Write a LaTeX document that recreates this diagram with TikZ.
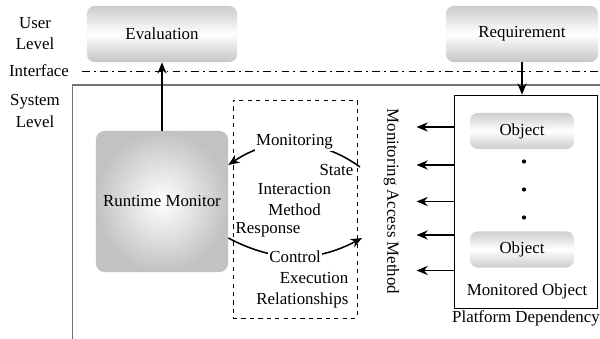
\documentclass[tikz,border=0pt]{standalone}
\usepackage{fontspec}
\setmainfont{Liberation Serif}
\usepackage{tikz}
\usetikzlibrary{positioning, calc, arrows.meta, shapes}
\definecolor{linegray}{rgb}{0.45, 0.45, 0.45}

\begin{document}
\begin{tikzpicture}[x=0.025cm, y=-0.025cm, font=\fontsize{12}{15}\selectfont,
		arr/.style={line width=1.1pt, -{Stealth[length=8pt, width=6.5pt]}},
		lvlbox/.style={rounded corners=5.5pt, top color=gray!40, bottom color=gray!45, middle color=white, minimum height=1.4cm},
		objbox/.style={rounded corners=5.5pt, top color=gray!38, bottom color=gray!40, middle color=white, minimum width=2.6cm, minimum height=0.9cm},
		lbl/.style={inner sep=1pt, align=center}]
				\useasboundingbox (0,0) rectangle (600,339);
				
				% levels
				\node[lbl] (user) at (35,34) {User\\Level};
				\node[lbl] (sys) at (35,111) {System\\Level};
				\node[lbl] (intf) at (39,71) {Interface};
				\draw[line width=0.6pt, dash pattern=on 5.5pt off 3pt on 1.4pt off 3pt] (82,71) -- (600,71);
				\draw[linegray, line width=0.8pt] (600,85) -- (72.5,85) -- (72.5,339);
				
				\node[lvlbox, minimum width=3.75cm] (eval) at (162,34) {Evaluation};
				\node[lvlbox, minimum width=3.8cm] (req) at (522,34) {Requirement};
				
				\node[rounded corners=6pt, inner color=white, outer color=gray!48, minimum width=3.3cm, minimum height=3.525cm] (rm) at (162,201.5) {Runtime Monitor};
				\node[draw, dashed, thin, minimum width=3.1cm, minimum height=5.45cm] (dbox) at (295,209) {};
				\node[draw, thin, minimum width=3.575cm, minimum height=5.325cm] (mobj) at (525.5,201.5) {};
				
				\node[objbox] (obj1) at (522,131) {Object};
				\node[objbox] (obj2) at (522,249.5) {Object};
				\foreach \yy in {161.5,189.5,217.5}
					\fill (524,\yy) circle (2.1);
				\node[lbl] (molbl) at (527,291) {Monitored Object};
				\node[lbl] (plat) at (526,318) {Platform Dependency};
				\node[lbl, rotate=-90] (mam) at (391.5,201.5) {Monitoring Access Method};
				
				\draw[arr] (rm.north) -- (eval.south);
				\draw[arr] (req.south) -- (req.south |- mobj.north);
				\foreach \yy [count=\i] in {127,165,201.5,235,270.5} {
					\coordinate (ma\i) at (416.5,\yy);
					\draw[arr] (mobj.west |- ma\i) -- (ma\i);
				}
				
				% interaction between monitor and objects
				\coordinate (stateR) at (360,167);
				\coordinate (rmIn) at ($(rm.east)+(0,-36.5)$);
				\coordinate (rmOut) at ($(rm.east)+(0,36.5)$);
				\coordinate (ctrlR) at (362,238);
				\draw[arr] (stateR) to[bend right=35] node[lbl, fill=white, yshift=1.5pt] (mon) {Monitoring} (rmIn);
				\draw[arr] (rmOut) to[bend right=28] node[lbl, fill=white] (ctrl) {Control} (ctrlR);
				\node[lbl, anchor=east] (state) at (355,170) {State};
				\node[lbl] (inter) at (294.5,199.5) {Interaction\\Method};
				\node[lbl, anchor=west] (resp) at (234,230) {Response};
				\node[lbl, anchor=east, align=right] (exec) at (350,290) {Execution\\Relationships};
				\end{tikzpicture}
\end{document}
